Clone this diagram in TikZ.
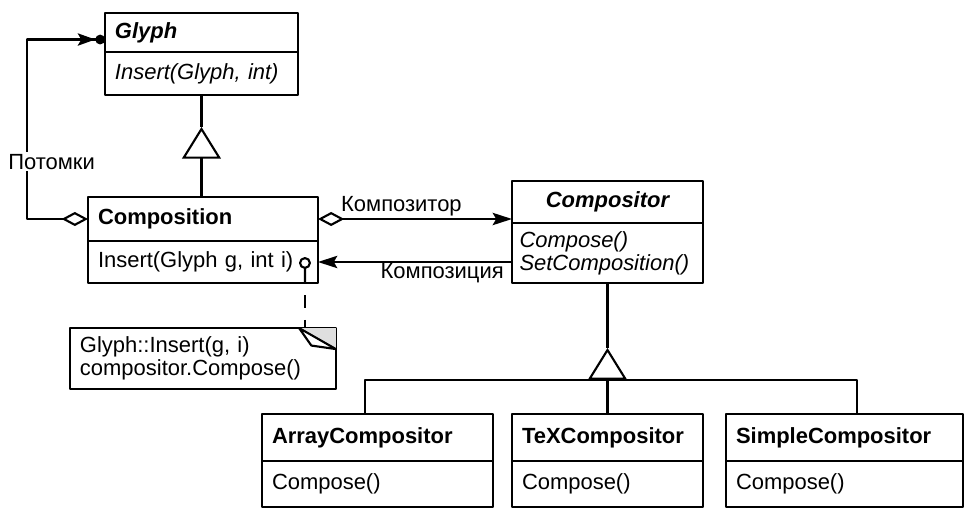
\documentclass[tikz,border=0pt]{standalone}
\usepackage{fontspec}
\setmainfont{Liberation Sans}
\usetikzlibrary{arrows.meta,positioning,calc}
\tikzset{
  cls/.style={draw, anchor=north west, inner xsep=0.2cm, inner ysep=0pt, outer sep=0pt, align=left},
  inh/.style={-{Triangle[open,length=18pt,width=22pt]}},
  lbl/.style={inner sep=1pt},
}
\begin{document}
\begin{tikzpicture}[x=0.02cm, y=-0.02cm, line width=1.2pt, >={Stealth[length=11pt,width=7pt,inset=2pt]}, line join=round]
	\fontsize{12.5}{13}\selectfont
	\useasboundingbox (0,0) rectangle (966,521);
	% Klassen
	\node[cls, text width=3.46cm, minimum height=0.78cm, font=\bfseries\itshape] (glyphh) at (105,13) {Glyph};
	\node[cls, text width=3.46cm, minimum height=0.86cm, font=\itshape] (glyphb) at (glyphh.south west) {Insert(Glyph, int)};
	\node[cls, text width=4.2cm, minimum height=0.88cm, font=\bfseries] (comph) at (88,197) {Composition};
	\node[cls, text width=4.2cm, minimum height=0.84cm] (compb) at (comph.south west) {Insert(Glyph g, int i)};
	\node[cls, text width=3.42cm, minimum height=0.84cm, align=center, font=\bfseries\itshape] (cmpsh) at (512,181) {Compositor};
	\node[cls, inner xsep=0.15cm, text width=3.52cm, minimum height=1.2cm, font=\itshape] (cmpsb) at (cmpsh.south west) {Compose()\\SetComposition()};
	\node[cls, text width=4.92cm, minimum height=1.22cm] (note) at (70,328) {Glyph::Insert(g, i)\\compositor.Compose()};
	\node[cls, text width=4.22cm, minimum height=0.94cm, font=\bfseries] (arrh) at (262,414) {ArrayCompositor};
	\node[cls, text width=4.22cm, minimum height=0.92cm] (arrb) at (arrh.south west) {Compose()};
	\node[cls, text width=3.42cm, minimum height=0.94cm, font=\bfseries] (texh) at (512,414) {TeXCompositor};
	\node[cls, text width=3.42cm, minimum height=0.92cm] (texb) at (texh.south west) {Compose()};
	\node[cls, text width=4.34cm, minimum height=0.94cm, font=\bfseries] (simh) at (726,414) {SimpleCompositor};
	\node[cls, text width=4.34cm, minimum height=0.92cm] (simb) at (simh.south west) {Compose()};
	% Eselsohr
	\fill[gray!25] ([xshift=-21pt]note.north east) -- (note.north east) -- ([yshift=-12pt]note.north east) -- cycle;
	\draw ([xshift=-21pt]note.north east) -- ([xshift=-14pt,yshift=-10pt]note.north east) -- ([yshift=-12pt]note.north east) -- cycle;
	% Verbindungen
	\draw[{Diamond[open,length=15pt,width=8pt]}-{Stealth[length=10pt,width=7pt,inset=2pt,sep=0pt]Circle[length=5.5pt]}] (comph.west) -- ++(-61,0) |- node[pos=0.16, fill=white, lbl, xshift=14pt] (potomki) {Потомки} ([yshift=-4pt]glyphh.west);
	\draw[{Diamond[open,length=15pt,width=8pt]}->] (comph.east) -- node[pos=0.43, above, lbl] (kompozitor) {Композитор} (comph.east -| cmpsh.west);
	\draw[->] (cmpsb.west |- compb.east) -- node[pos=0.36, below, inner sep=0pt] (kompoziciya) {Композиция} (compb.east);
	\coordinate (pin) at ([xshift=-7.4pt]compb.south east);
	\draw (pin) -- ++(0,-15) ++(0,-5) circle[radius=2.8pt];
	\draw[dash pattern=on 7pt off 7pt, dash phase=7pt] (pin) -- (pin |- note.north);
	\coordinate (gtip) at ($(glyphb.south)+(0,32)$);
	\draw[inh] (comph.north -| glyphb.south) -- (gtip);
	\draw (gtip) -- (glyphb.south);
	\coordinate (ctip) at ($(cmpsb.south)+(0,65)$);
	\coordinate (bus) at ($(ctip)+(0,32)$);
	\draw (cmpsb.south) -- (ctip);
	\draw[inh] (texh.north) -- (ctip);
	\draw ([xshift=-7pt]arrh.north) |- (bus) -| ([xshift=7pt]simh.north);
\end{tikzpicture}
\end{document}
